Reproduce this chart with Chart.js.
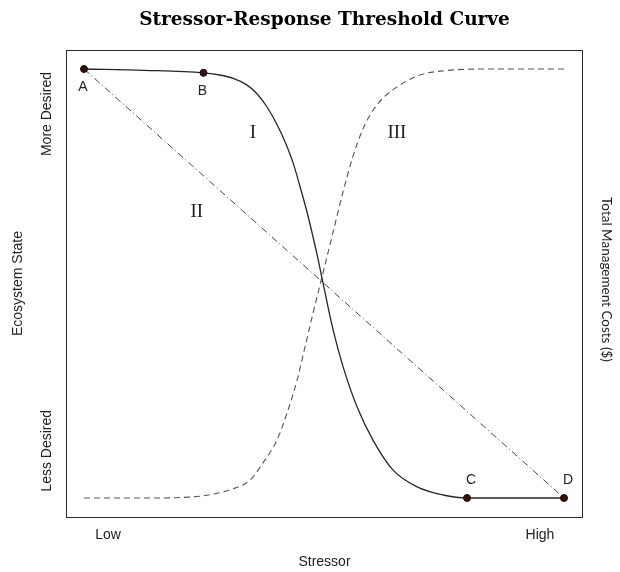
<!DOCTYPE html>
<html>
<head>
<meta charset="utf-8">
<script src="https://cdn.jsdelivr.net/npm/chart.js@4/dist/chart.umd.min.js"></script>
<style>
    html, body { margin: 0; padding: 0; background: #ffffff; }
    #wrap { width: 620px; height: 572px; }
</style>
</head>
<body>
<div id="wrap"><canvas id="thresholdChart" width="620" height="572"></canvas></div>
<script>
// Stressor en 0-100 (Low -> High), estado del ecosistema en 0-100 (Less -> More Desired)
const curveIX = [0, 12.5, 24.9, 28.3, 31.1, 33.9, 36.0, 38.1, 40.1, 41.9, 43.6, 45.0, 46.5, 48.5, 49.8, 51.9, 54.0, 56.9, 60.2, 64.4, 69.4, 74.8, 79.8, 100];
const curveIY = [100, 99.7, 99.1, 98.6, 97.8, 96.3, 94.3, 91.2, 87.3, 83.0, 78.0, 72.6, 66.5, 57.0, 50.1, 39.2, 30.5, 21.2, 13.5, 6.5, 2.6, 0.7, 0, 0];

const curveIIIX = [0, 16, 20, 24.2, 27.3, 30.4, 34.6, 37.3, 40.2, 42.3, 44.4, 46.0, 47.7, 49.8, 51.9, 54.0, 56.0, 58.1, 61.0, 65.2, 70.0, 74.2, 84.0, 100];
const curveIIIY = [0, 0, 0.1, 0.4, 1.0, 1.9, 4.2, 8.2, 13.5, 19.8, 27.5, 35.0, 43.0, 52.5, 62.0, 71.5, 79.5, 86.0, 91.6, 95.8, 98.6, 99.5, 100, 100];

const lineIIX = [0, 100];
const lineIIY = [100, 0];

const pointNames = ['A', 'B', 'C', 'D'];
const pointX = [0, 24.9, 79.8, 100];
const pointY = [100, 99.1, 0, 0];

const romanLabels = ['I', 'II', 'III'];
const romanX = [35.2, 23.5, 65.2];
const romanY = [85.1, 66.7, 85.1];

const stressorTicks = [5, 95];
const stressorTickLabels = ['Low', 'High'];
const stateTicks = [89.5, 11];
const stateTickLabels = ['More Desired', 'Less Desired'];

// etiquetas de puntos: debajo (A, B) o arriba (C, D)
const pointLabelSide = [1, 1, -1, -1];

function toXY(xs, ys) {
    return xs.map((x, i) => ({ x: x, y: ys[i] }));
}

const textColor = '#222222';
const sansFont = '"Liberation Sans", Arial, sans-serif';

const textosPlugin = {
    id: 'textos',
    afterDraw(chart) {
        const ctx = chart.ctx;
        const area = chart.chartArea;
        const xs = chart.scales.x;
        const ys = chart.scales.y;

        ctx.save();

        // marco del area
        ctx.strokeStyle = '#2a2a2a';
        ctx.lineWidth = 1;
        ctx.strokeRect(area.left + 0.5, area.top + 0.5, area.right - area.left - 1, area.bottom - area.top);

        ctx.fillStyle = textColor;
        ctx.font = '14px ' + sansFont;
        ctx.textAlign = 'center';
        ctx.textBaseline = 'middle';

        // ticks eje x
        stressorTicks.forEach((v, i) => {
            ctx.fillText(stressorTickLabels[i], xs.getPixelForValue(v), area.bottom + 18);
        });
        ctx.fillText('Stressor', (area.left + area.right) / 2, area.bottom + 45);

        // ticks eje y (rotados)
        stateTicks.forEach((v, i) => {
            ctx.save();
            ctx.translate(area.left - 19, ys.getPixelForValue(v));
            ctx.rotate(-Math.PI / 2);
            ctx.fillText(stateTickLabels[i], 0, 0);
            ctx.restore();
        });

        ctx.save();
        ctx.translate(18, (area.top + area.bottom) / 2);
        ctx.rotate(-Math.PI / 2);
        ctx.fillText('Ecosystem State', 0, 0);
        ctx.restore();

        ctx.save();
        ctx.font = '13.5px Lato, "Open Sans", sans-serif';
        ctx.translate(area.right + 23, (area.top + area.bottom) / 2 - 4);
        ctx.rotate(Math.PI / 2);
        ctx.fillText('Total Management Costs ($)', 0, 0);
        ctx.restore();

        // letras de los puntos
        pointNames.forEach((n, i) => {
            const px = xs.getPixelForValue(pointX[i]);
            const py = ys.getPixelForValue(pointY[i]);
            const dx = pointLabelSide[i] > 0 ? -1 : 4;
            ctx.fillText(n, px + dx, py + pointLabelSide[i] * 18);
        });

        // numeros romanos
        ctx.font = '19px "Liberation Serif", "Times New Roman", serif';
        romanLabels.forEach((r, i) => {
            ctx.fillText(r, xs.getPixelForValue(romanX[i]), ys.getPixelForValue(romanY[i]));
        });

        ctx.restore();
    }
};

const ctx = document.getElementById('thresholdChart').getContext('2d');

const thresholdChart = new Chart(ctx, {
    type: 'scatter',
    data: {
        datasets: [
            {
                label: 'Puntos',
                data: toXY(pointX, pointY),
                showLine: false,
                pointRadius: 3.5,
                pointBackgroundColor: '#3a0b0b',
                pointBorderColor: '#111111',
                pointBorderWidth: 1
            },
            {
                label: 'I',
                data: toXY(curveIX, curveIY),
                showLine: true,
                borderColor: '#262626',
                borderWidth: 1.3,
                cubicInterpolationMode: 'monotone',
                pointRadius: 0
            },
            {
                label: 'II',
                data: toXY(lineIIX, lineIIY),
                showLine: true,
                borderColor: '#444444',
                borderWidth: 1,
                borderDash: [7, 3, 1, 3],
                pointRadius: 0
            },
            {
                label: 'III',
                data: toXY(curveIIIX, curveIIIY),
                showLine: true,
                borderColor: '#555555',
                borderWidth: 1.1,
                borderDash: [6, 4],
                cubicInterpolationMode: 'monotone',
                pointRadius: 0
            }
        ]
    },
    options: {
        responsive: false,
        animation: false,
        layout: {
            padding: { left: 66, right: 37, top: 0, bottom: 55 }
        },
        scales: {
            x: { type: 'linear', display: false, min: -3.75, max: 103.96 },
            y: { type: 'linear', display: false, min: -4.43, max: 104.43 }
        },
        plugins: {
            legend: { display: false },
            tooltip: { enabled: false },
            title: {
                display: true,
                text: 'Stressor-Response Threshold Curve',
                color: '#000000',
                font: { family: '"DejaVu Serif", serif', size: 18.5, weight: 'bold', lineHeight: 1.2 },
                padding: { top: 9, bottom: 18.8 }
            }
        }
    },
    plugins: [textosPlugin]
});
</script>
</body>
</html>
